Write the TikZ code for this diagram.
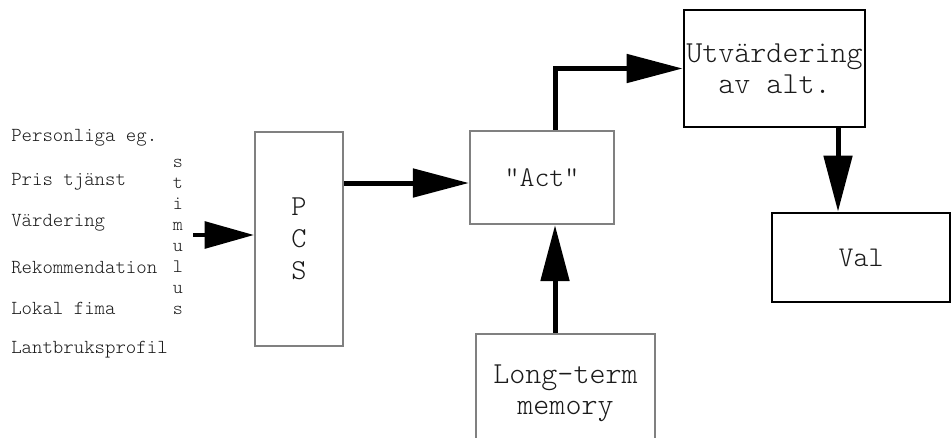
\documentclass[tikz,border=0pt]{standalone}
\usepackage{fontspec}
\newfontfamily\typerfont{Latin Modern Mono Light}
\usetikzlibrary{arrows.meta}
\definecolor{boxgray}{HTML}{808080}
\definecolor{ink}{HTML}{1A1A1A}
\newcommand{\dq}{\symbol{34}}
\begin{document}
\begin{tikzpicture}[x=0.75pt,y=-0.75pt,
  graybox/.style={draw=boxgray,line width=1.6pt,fill=white,text=ink,align=center,inner sep=0pt},
  blackbox/.style={draw=black,line width=2pt,fill=white,text=ink,align=center,inner sep=0pt},
  bigtext/.style={font=\typerfont\fontsize{22.9}{23}\selectfont},
  midtext/.style={font=\typerfont\fontsize{21.4}{22}\selectfont},
  listtext/.style={font=\typerfont\fontsize{14.9}{15}\selectfont,text=ink,anchor=west,inner sep=0pt},
  flow/.style={line width=3.75pt,-{Triangle[length=42pt,width=21pt]}},
  thinflow/.style={line width=3pt,-{Triangle[length=37pt,width=20pt]}}
]
\clip (0,0) rectangle (952,437);

% input factors
\node[listtext] (l1) at (11,138) {Personliga eg.};
\node[listtext] (l2) at (11,182) {Pris tjänst};
\node[listtext] (l3) at (11,223) {Värdering};
\node[listtext] (l4) at (11,268) {Rekommendation};
\node[listtext] (l5) at (11,308) {Lokal fima};
\node[listtext] (l6) at (11,350) {Lantbruksprofil};

% vertical "stimulus" label
\node[font=\typerfont\fontsize{14.3}{15.75}\selectfont,text=ink,align=center,inner sep=0pt] (stim) at (178,237)
  {s\\t\\i\\m\\u\\l\\u\\s};

% boxes
\node[graybox,minimum width=66pt,minimum height=160.5pt,
      font=\typerfont\fontsize{21.7}{24}\selectfont] (pcs) at (299,239) {P\\C\\S};
\node[graybox,midtext,minimum width=108pt,minimum height=69.75pt] (act) at (542,177.5) {\dq Act\dq};
\node[blackbox,bigtext,minimum width=135.75pt,minimum height=87.75pt] (utv) at (774.5,68.5)
  {Utvärdering\\av alt.};
\node[blackbox,midtext,minimum width=133.5pt,minimum height=66.75pt] (val) at (861,257.5) {Val};
\node[graybox,bigtext,minimum width=134.25pt,minimum height=88.5pt] (ltm) at (565.5,393)
  {Long-term\\memory};

% connector anchors
\coordinate (sin) at (193,235);
\coordinate (pcy) at (0,183);
\coordinate (avx) at (555,0);
\coordinate (uvx) at (838,0);

% connectors
\draw[thinflow] (sin) -- (sin -| pcs.west);
\draw[flow] (pcs.east |- pcy) -- (act.west |- pcy);
\draw[flow] (act.north -| avx) |- (utv.west);
\draw[flow] (ltm.north -| avx) -- (act.south -| avx);
\draw[flow] (utv.south -| uvx) -- (val.north -| uvx);
\end{tikzpicture}
\end{document}
